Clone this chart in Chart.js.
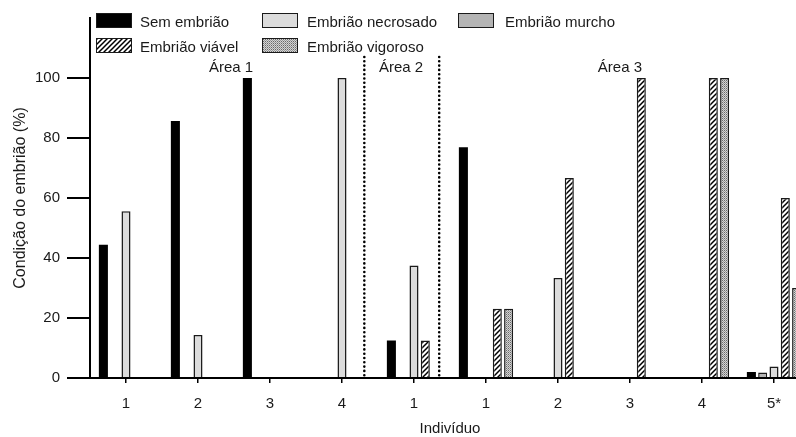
<!DOCTYPE html>
<html>
<head>
<meta charset="utf-8">
<script src="https://cdn.jsdelivr.net/npm/chart.js@4/dist/chart.umd.min.js"></script>
<style>
  html, body { margin:0; padding:0; background:#fff; overflow:hidden; width:796px; height:437px; }
  #wrap { position:absolute; left:0; top:0; width:810px; height:437px; }
  .lg { position:absolute; font-family:"Liberation Sans", Arial, sans-serif; font-size:15px; color:#1a1a1a; white-space:nowrap; line-height:15px; }
  .sw { position:absolute; width:34px; height:13px; border:1.5px solid #1a1a1a; }
</style>
</head>
<body>
<div id="wrap"><canvas id="c" width="810" height="437"></canvas></div>
<div id="legend"></div>
<script>
// ---- data ----
const categories = ['1', '2', '3', '4', '1', '1', '2', '3', '4', '5*'];
const semEmbriao      = [44.4, 85.7, 100, null, 12.5, 76.9, null, null, null, 2];
const embriaoMurcho   = [null, null, null, null, null, null, null, null, null, 1.8];
const embriaoNecrosado= [55.6, 14.3, null, 100, 37.5, null, 33.3, null, null, 3.8];
const embriaoViavel   = [null, null, null, null, 12.5, 23.1, 66.7, 100, 100, 60];
const embriaoVigoroso = [null, null, null, null, null, 23.1, null, null, 100, 30];
const areaLabels = ['Área 1', 'Área 2', 'Área 3'];
const yTickValues = [0, 20, 40, 60, 80, 100];

// ---- patterns ----
function hatchCanvas() {
  const c = document.createElement('canvas'); c.width = 5; c.height = 5;
  const g = c.getContext('2d');
  g.fillStyle = '#fff'; g.fillRect(0, 0, 5, 5);
  g.strokeStyle = '#000'; g.lineWidth = 1.5;
  g.beginPath();
  g.moveTo(-1, 6); g.lineTo(6, -1);
  g.moveTo(-1, 1); g.lineTo(1, -1);
  g.moveTo(4, 6); g.lineTo(6, 4);
  g.stroke();
  return c;
}
function stippleCanvas() {
  const c = document.createElement('canvas'); c.width = 2; c.height = 2;
  const g = c.getContext('2d');
  g.fillStyle = '#d4d4d4'; g.fillRect(0, 0, 2, 2);
  g.fillStyle = '#6a6a6a'; g.fillRect(0, 0, 1, 1);
  g.fillStyle = '#9a9a9a'; g.fillRect(1, 1, 1, 1);
  return c;
}
const ctx = document.getElementById('c').getContext('2d');
const hc = hatchCanvas(), sc = stippleCanvas();
const hatch = ctx.createPattern(hc, 'repeat');
const stipple = ctx.createPattern(sc, 'repeat');

const series = [
  { label: 'Sem embrião', data: semEmbriao, bg: '#000000', bw: 0 },
  { label: 'Embrião murcho', data: embriaoMurcho, bg: '#b4b4b4', bw: 1.5 },
  { label: 'Embrião necrosado', data: embriaoNecrosado, bg: '#dcdcdc', bw: 1.5 },
  { label: 'Embrião viável', data: embriaoViavel, bg: hatch, bw: 1.5 },
  { label: 'Embrião vigoroso', data: embriaoVigoroso, bg: stipple, bw: 1.5 }
];

// ---- HTML legend ----
const legendItems = [
  { label: 'Sem embrião', bg: '#000', x: 96, y: 13, tx: 140 },
  { label: 'Embrião necrosado', bg: '#dcdcdc', x: 262, y: 13, tx: 307 },
  { label: 'Embrião murcho', bg: '#b4b4b4', x: 458, y: 13, tx: 505 },
  { label: 'Embrião viável', bg: 'url(' + hc.toDataURL() + ')', x: 96, y: 38, tx: 140 },
  { label: 'Embrião vigoroso', bg: 'url(' + sc.toDataURL() + ')', x: 262, y: 38, tx: 307 }
];
const lg = document.getElementById('legend');
legendItems.forEach(it => {
  const s = document.createElement('div');
  s.className = 'sw';
  s.style.left = it.x + 'px'; s.style.top = it.y + 'px';
  s.style.background = it.bg;
  lg.appendChild(s);
  const t = document.createElement('div');
  t.className = 'lg';
  t.style.left = it.tx + 'px'; t.style.top = (it.y + 1) + 'px';
  t.textContent = it.label;
  lg.appendChild(t);
});

// ---- overlay plugin: dividers and area labels ----
const overlay = {
  id: 'overlay',
  afterDatasetsDraw(chart) {
    const { ctx, scales: { x, y } } = chart;
    ctx.save();
    ctx.strokeStyle = '#000'; ctx.lineWidth = 2.6; ctx.lineCap = 'round';
    ctx.setLineDash([0, 4.3]);
    [3.31, 4.35].forEach(v => {
      const px = x.getPixelForValue(v);
      ctx.beginPath();
      ctx.moveTo(px, y.getPixelForValue(107));
      ctx.lineTo(px, y.getPixelForValue(0));
      ctx.stroke();
    });
    ctx.setLineDash([]);
    ctx.font = '15px "Liberation Sans", Arial, sans-serif';
    ctx.fillStyle = '#1a1a1a'; ctx.textAlign = 'center'; ctx.textBaseline = 'middle';
    [1.46, 3.82, 6.86].forEach((p, i) => ctx.fillText(areaLabels[i], x.getPixelForValue(p), y.getPixelForValue(103.4)));
    ctx.restore();
  }
};

const font = { family: '"Liberation Sans", Arial, sans-serif', size: 15 };
new Chart(ctx, {
  type: 'bar',
  data: {
    labels: categories,
    datasets: series.map(s => ({
      label: s.label, data: s.data, backgroundColor: s.bg,
      borderColor: '#1a1a1a', borderWidth: s.bw,
      categoryPercentage: 0.785, barPercentage: 0.8
    }))
  },
  options: {
    responsive: false, animation: false, devicePixelRatio: 1,
    layout: { padding: { top: 18, left: 0, right: 0, bottom: 0 } },
    plugins: { legend: { display: false }, tooltip: { enabled: false } },
    scales: {
      x: {
        grid: { display: true, drawOnChartArea: false, offset: false, tickLength: 5, color: '#000', lineWidth: 1.5 },
        border: { display: true, color: '#000', width: 2 },
        ticks: { font, color: '#1a1a1a', padding: 12, maxRotation: 0 },
        title: { display: true, text: 'Indivíduo', font, color: '#1a1a1a', padding: { top: 0, bottom: -1 } },
        afterFit(s) { s.height = 59; }
      },
      y: {
        min: 0, max: 120,
        afterBuildTicks(s) { s.ticks = yTickValues.map(v => ({ value: v })); },
        grid: { display: true, drawOnChartArea: false, tickLength: 23, color: '#000', lineWidth: 2 },
        border: { display: true, color: '#000', width: 2 },
        ticks: { font, color: '#1a1a1a', padding: 7 },
        title: { display: true, text: 'Condição do embrião (%)', font: { family: font.family, size: 16 }, color: '#1a1a1a', padding: { top: 11, bottom: 0 } },
        afterFit(s) { s.width = 90; }
      }
    }
  },
  plugins: [overlay]
});
</script>
</body>
</html>
